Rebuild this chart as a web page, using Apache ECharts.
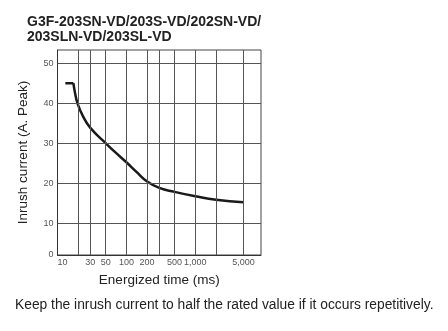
<!DOCTYPE html>
<html>
<head>
<meta charset="utf-8">
<script src="https://cdn.jsdelivr.net/npm/echarts@6/dist/echarts.min.js"></script>
<style>
  html, body { margin: 0; padding: 0; background: #fff; }
  #chart { width: 448px; height: 331px; }
</style>
</head>
<body>
<div id="chart"></div>
<script>
// Energizing time (ms) and the allowable inrush peak current (A)
const energizedTimes = [13, 17, 18, 19.5, 23.5, 30, 50, 70, 100, 140, 200, 300, 500, 1000, 2000, 5000];
const inrushCurrents = [45, 45, 42.5, 40, 36.7, 33.8, 30, 27.6, 25.2, 22.8, 20.4, 18.8, 17.8, 16.7, 15.8, 15.2];
// the first two points form the flat plateau, the rest the decay curve
const plateauCount = 2;

// Axis tick labels and grid positions
const timeLabels = [10, 30, 50, 100, 200, 500, 1000, 5000];
const timeGridLines = [20, 30, 50, 100, 200, 300, 500, 1000, 2000, 5000];
const currentLabels = [2, 10, 20, 30, 40, 50];
const currentGridLines = [10, 20, 30, 40, 50];

const titleText = 'G3F-203SN-VD/203S-VD/202SN-VD/\n203SLN-VD/203SL-VD';
const noteText = 'Keep the inrush current to half the rated value if it occurs repetitively.';

const chart = echarts.init(document.getElementById('chart'), null, { renderer: 'canvas' });

const points = energizedTimes.map((t, i) => [t, inrushCurrents[i]]);
const plateau = points.slice(0, plateauCount);
const decay = points.slice(plateauCount - 1);
const gridMarks = timeGridLines.map(t => ({ xAxis: t }))
  .concat(currentGridLines.map(c => ({ yAxis: c })));

const curveStyle = { color: '#1a1a1a', width: 2.5 };

chart.setOption({
  animation: false,
  title: [
    {
      text: titleText,
      left: 22,
      top: 10,
      textStyle: {
        fontFamily: 'Liberation Sans, Arial, sans-serif',
        fontWeight: 'bold',
        fontSize: 14,
        lineHeight: 15,
        color: '#222'
      }
    },
    {
      text: noteText,
      left: 10,
      top: 293,
      textStyle: {
        fontFamily: 'Liberation Sans, Arial, sans-serif',
        fontWeight: 'normal',
        fontSize: 13.8,
        color: '#222'
      }
    }
  ],
  grid: {
    left: 57.5,
    right: 187,
    top: 50,
    bottom: 76,
    show: true,
    borderColor: '#444',
    borderWidth: 1
  },
  xAxis: {
    type: 'log',
    logBase: 10,
    min: 10,
    max: 9000,
    name: 'Energized time (ms)',
    nameLocation: 'middle',
    nameGap: 18,
    nameTextStyle: { fontFamily: 'Liberation Sans, Arial, sans-serif', fontSize: 13.5, color: '#222' },
    axisLine: { show: true, lineStyle: { color: '#333', width: 1 } },
    axisTick: { show: false },
    splitLine: { show: false },
    axisLabel: {
      customValues: timeLabels,
      alignMinLabel: 'left',
      margin: 3,
      fontFamily: 'Liberation Sans Narrow, Liberation Sans, Arial, sans-serif',
      fontSize: 9,
      color: '#555',
      formatter: v => Number(v).toLocaleString('en-US')
    }
  },
  yAxis: {
    type: 'value',
    min: 2,
    max: 53.3,
    name: 'Inrush current (A. Peak)',
    nameLocation: 'middle',
    nameGap: 27,
    nameTextStyle: { fontFamily: 'Liberation Sans, Arial, sans-serif', fontSize: 13.5, color: '#222' },
    axisLine: { show: true, lineStyle: { color: '#333', width: 1 } },
    axisTick: { show: false },
    splitLine: { show: false },
    axisLabel: {
      customValues: currentLabels,
      margin: 4,
      fontFamily: 'Liberation Sans Narrow, Liberation Sans, Arial, sans-serif',
      fontSize: 9,
      color: '#555',
      formatter: v => (v === 2 ? '0' : String(v))
    }
  },
  series: [
    {
      // grid lines
      type: 'line',
      data: [],
      z: 1,
      silent: true,
      markLine: {
        silent: true,
        symbol: 'none',
        label: { show: false },
        lineStyle: { color: '#555', type: 'solid', width: 1 },
        data: gridMarks
      }
    },
    {
      type: 'line',
      data: plateau,
      z: 3,
      showSymbol: false,
      lineStyle: curveStyle
    },
    {
      type: 'line',
      data: decay,
      z: 3,
      smooth: 0.5,
      showSymbol: false,
      lineStyle: curveStyle
    }
  ]
});
</script>
</body>
</html>
